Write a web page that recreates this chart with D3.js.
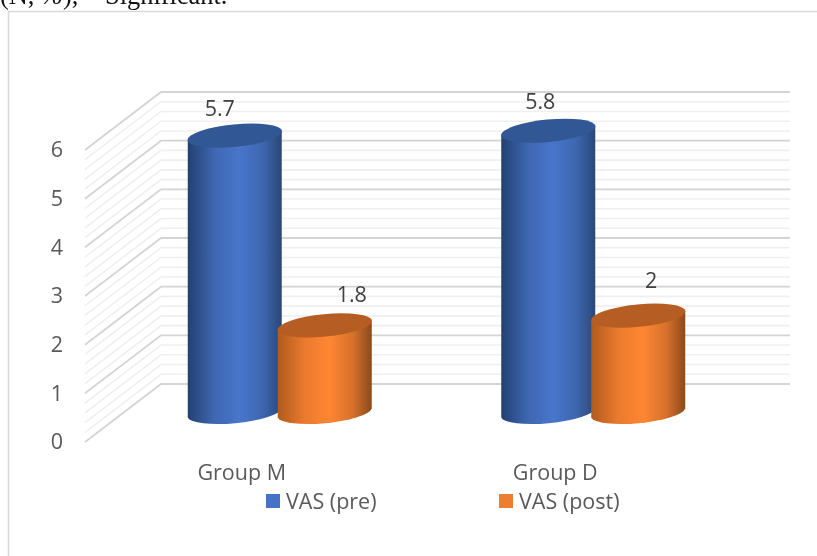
<!DOCTYPE html>
<html><head><meta charset="utf-8">
<script src="https://cdnjs.cloudflare.com/ajax/libs/d3/7.8.5/d3.min.js"></script>
<style>html,body{margin:0;padding:0;background:#fff;overflow:hidden}svg{display:block;filter:blur(0.35px)}</style>
</head><body><svg id="c" width="817" height="556"></svg>
<script>
const categories = ["Group M", "Group D"];
const seriesNames = ["VAS (pre)", "VAS (post)"];
const vasPre = [5.7, 5.8];
const vasPost = [1.8, 2];
const yTicks = [0, 1, 2, 3, 4, 5, 6];
const minorStep = 0.2;
const seriesColors = [
  {edgeL:"#234070", mid:"#4876cb", edgeR:"#2a4877", top:"#325795", key:"#4472c4"},
  {edgeL:"#b05a1e", mid:"#ff8633", edgeR:"#8a4a1c", top:"#b55d22", key:"#ed7d31"}
];

const svg = d3.select("#c");
const depthX = 76, depthY = -58;
const fontSize = 21.5;
// back-wall y scale; the front edge and the bar plane are shifted from it
const yBack = d3.scaleLinear().domain([0, 6]).range([384, 92]);
const yBar = v => yBack(v) - depthY / 2;
const xFront = d3.scaleBand().domain(categories).range([85, 712]);
const xMid = d3.scaleBand().domain(categories).range([123, 750]);
const xSeries = d3.scalePoint().domain(seriesNames).range([-45, 45]);

// page fragment and chart frame
const head = svg.append("text").attr("y", 4).attr("font-family", "Liberation Serif").attr("font-size", 26.4).attr("fill", "#111");
head.append("tspan").attr("x", 0).text("(N, ");
head.append("tspan").attr("font-style", "italic").text("%");
head.append("tspan").text("),");
head.append("tspan").attr("x", 105).text("Significant.");
svg.append("path").attr("d", "M8.5,556V11.5H817").attr("fill", "none").attr("stroke", "#d9d9d9").attr("stroke-width", 1.5);

// walls
const gridVals = d3.range(0, 6 + 1e-6, minorStep).map(v => +v.toFixed(1));
const gridG = svg.append("g").attr("fill", "none");
gridVals.filter(v => !yTicks.includes(v)).concat(yTicks).forEach(v => {
  const major = yTicks.includes(v), y = yBack(v);
  gridG.append("path")
    .attr("d", `M85,${y - depthY}L161,${y}H790`)
    .attr("stroke", major ? "#d4d4d4" : "#efefef")
    .attr("stroke-width", major ? 1.8 : 1.6);
});

// y tick labels
svg.append("g").selectAll("text").data(yTicks).join("text")
  .attr("x", 57).attr("y", d => yBack(d) - depthY - 0.5).attr("dy", "0.36em")
  .attr("text-anchor", "middle").attr("font-family", "Open Sans").attr("font-size", fontSize).attr("fill", "#595959")
  .text(d => d);

// gradients
const defs = svg.append("defs");
seriesColors.forEach((c, i) => {
  const g = defs.append("linearGradient").attr("id", "g" + i);
  [[0, c.edgeL], [0.28, d3.interpolateRgb(c.edgeL, c.mid)(0.72)], [0.55, c.mid], [0.8, d3.interpolateRgb(c.mid, c.edgeR)(0.35)], [1, c.edgeR]]
    .forEach(s => g.append("stop").attr("offset", s[0]).attr("stop-color", s[1]));
});

// cylinders
const a = 47.4, b = 11.2, tilt = -5.6, rx = 47, off = 4.5;
const labelNudge = [[[-15, -27], [27, -31]], [[-8, -29], [13, -35]]];
[vasPre, vasPost].forEach((vals, si) => {
  const g = svg.append("g");
  vals.forEach((v, ci) => {
    const cx = xMid(categories[ci]) + xMid.bandwidth() / 2 + xSeries(seriesNames[si]);
    const yT = yBar(v), y0 = yBar(0);
    g.append("path")
      .attr("d", `M${cx - rx},${yT + off}L${cx - rx},${y0 + off}A${a},${b} ${tilt} 0 0 ${cx + rx},${y0 - off}L${cx + rx},${yT - off}Z`)
      .attr("fill", `url(#g${si})`);
    g.append("ellipse").attr("rx", a).attr("ry", b)
      .attr("transform", `translate(${cx},${yT}) rotate(${tilt})`)
      .attr("fill", seriesColors[si].top);
  });
});
// data labels on top of all bars
[vasPre, vasPost].forEach((vals, si) => {
  vals.forEach((v, ci) => {
    const cx = xMid(categories[ci]) + xMid.bandwidth() / 2 + xSeries(seriesNames[si]);
    svg.append("text").attr("x", cx + labelNudge[ci][si][0]).attr("y", yBar(v) + labelNudge[ci][si][1])
      .attr("dy", "0.36em").attr("text-anchor", "middle").attr("font-family", "Open Sans").attr("font-size", fontSize).attr("fill", "#404040")
      .text(v);
  });
});

// category labels
svg.append("g").selectAll("text").data(categories).join("text")
  .attr("x", d => xFront(d) + xFront.bandwidth() / 2).attr("y", 472).attr("dy", "0.36em")
  .attr("text-anchor", "middle").attr("font-family", "Open Sans").attr("font-size", fontSize).attr("fill", "#595959")
  .text(d => d);

// legend
const legendX = [266, 499];
seriesNames.forEach((n, i) => {
  svg.append("rect").attr("x", legendX[i]).attr("y", 494).attr("width", 14).attr("height", 14).attr("fill", seriesColors[i].key);
  svg.append("text").attr("x", legendX[i] + 20).attr("y", 501).attr("dy", "0.36em")
    .attr("font-family", "Open Sans").attr("font-size", fontSize).attr("fill", "#595959").text(n);
});
</script></body></html>
